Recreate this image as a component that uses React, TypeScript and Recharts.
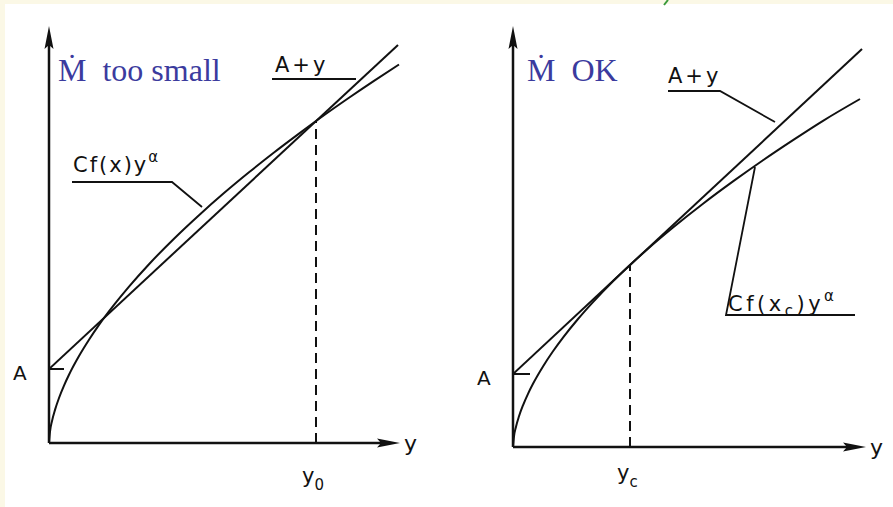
import React from 'react';
import { LineChart, Line, XAxis, YAxis, ReferenceLine } from 'recharts';

// ── Data (both panels share a y-range of 0..430, x-range of 0..360) ─────────

// Left panel: mass flux too small, curve crosses A + y twice
const leftCurveX = [0, 1, 3, 6, 10, 15, 20, 30, 40, 50, 65, 80, 100, 125, 150, 175, 200, 225, 250, 275, 300, 325, 350];
const leftCurveY = [0, 11.3, 21.9, 33.1, 45, 57.4, 68.2, 86.9, 103.2, 118.1, 138.1, 156.4, 178.8, 204.3, 227.8, 249.9, 270.7, 290.5, 309.4, 327.7, 345.2, 362.1, 378.5];
const leftLineX = [0, 349];
const leftLineY = [74, 398];
const leftA = 74;
const leftY0 = 267;
const leftCrossY = 322;

// Right panel: critical case, curve tangent to A + y at y_c
const rightCurveX = [0, 1, 3, 6, 10, 15, 20, 30, 40, 50, 65, 80, 100, 117, 135, 160, 190, 220, 250, 280, 310, 347];
const rightCurveY = [0, 10.5, 20.3, 30.7, 41.7, 53.2, 63.2, 80.5, 95.7, 109.4, 128, 144.9, 165.7, 182, 198.3, 219.5, 243.3, 265.6, 286.8, 306.9, 326.2, 348];
const rightLineX = [0, 349];
const rightLineY = [73, 398];
const rightA = 73;
const rightYc = 117;
const rightTangentY = 182;

const X_MAX = 360;
const Y_MAX = 430;

const toPoints = (xs: number[], ys: number[]) => xs.map((x, i) => ({ x, y: ys[i] }));

const INK = '#111';
const BLUE = '#3b3b9e';
const TECH_FONT = '"DejaVu Sans", sans-serif';
const SERIF = '"Liberation Serif", "DejaVu Serif", serif';

// ── Arrow-headed axis drawn through ReferenceLine's shape hook ──────────────

function ArrowAxis(props: any) {
  const { x1, y1, x2, y2 } = props;
  const dx = x2 - x1;
  const dy = y2 - y1;
  const len = Math.hypot(dx, dy) || 1;
  const ux = dx / len;
  const uy = dy / len;
  const head = 23;
  const half = 4.5;
  const bx = x2 - ux * head;
  const by = y2 - uy * head;
  const pts = [
    `${x2},${y2}`,
    `${bx - uy * half},${by + ux * half}`,
    `${bx + ux * 4},${by + uy * 4}`,
    `${bx + uy * half},${by - ux * half}`,
  ].join(' ');
  return (
    <g>
      <line x1={x1} y1={y1} x2={bx + ux * 4} y2={by + uy * 4} stroke={INK} strokeWidth={2.5} />
      <polygon points={pts} fill={INK} />
    </g>
  );
}

// ── One panel ───────────────────────────────────────────────────────────────

interface PanelProps {
  width: number;
  height: number;
  margin: { top: number; right: number; bottom: number; left: number };
  curve: { x: number; y: number }[];
  line: { x: number; y: number }[];
  a: number;
  tickLen: number;
  guideX: number;
  guideY: number;
  xTip: number;
  yTip: number;
}

function Panel({ width, height, margin, curve, line, a, tickLen, guideX, guideY, xTip, yTip }: PanelProps) {
  return (
    <LineChart width={width} height={height} margin={margin}>
      <XAxis type="number" dataKey="x" domain={[0, X_MAX]} hide allowDataOverflow />
      <YAxis type="number" dataKey="y" domain={[0, Y_MAX]} hide allowDataOverflow />

      <ReferenceLine segment={[{ x: 0, y: 0 }, { x: 0, y: yTip }]} shape={ArrowAxis} ifOverflow="visible" />
      <ReferenceLine segment={[{ x: 0, y: 0 }, { x: xTip, y: 0 }]} shape={ArrowAxis} ifOverflow="visible" />

      <ReferenceLine
        segment={[{ x: guideX, y: 0 }, { x: guideX, y: guideY }]}
        stroke={INK}
        strokeWidth={2}
        strokeDasharray="10 6"
      />
      <ReferenceLine segment={[{ x: 0, y: a }, { x: tickLen, y: a }]} stroke={INK} strokeWidth={2} />

      <Line data={line} dataKey="y" type="linear" stroke={INK} strokeWidth={2} dot={false} isAnimationActive={false} />
      <Line data={curve} dataKey="y" type="monotone" stroke={INK} strokeWidth={2} dot={false} isAnimationActive={false} />
    </LineChart>
  );
}

// ── Page ────────────────────────────────────────────────────────────────────

export default function App() {
  const techText = { fontFamily: TECH_FONT, fill: INK } as const;
  return (
    <div style={{ position: 'absolute', left: 0, top: 0, width: 893, height: 507, background: '#fbf8e6', overflow: 'hidden' }}>
      <div style={{ position: 'absolute', left: 5, top: 4, right: 0, bottom: 0, background: '#fff' }} />

      <div style={{ position: 'absolute', left: 0, top: 0 }}>
        <Panel
          width={446}
          height={507}
          margin={{ top: 443 - Y_MAX, left: 49, right: 446 - 49 - X_MAX, bottom: 507 - 443 }}
          curve={toPoints(leftCurveX, leftCurveY)}
          line={toPoints(leftLineX, leftLineY)}
          a={leftA}
          tickLen={15}
          guideX={leftY0}
          guideY={leftCrossY}
          xTip={351}
          yTip={417}
        />
      </div>

      <div style={{ position: 'absolute', left: 446, top: 0 }}>
        <Panel
          width={447}
          height={507}
          margin={{ top: 447 - Y_MAX, left: 67, right: 447 - 67 - X_MAX, bottom: 507 - 447 }}
          curve={toPoints(rightCurveX, rightCurveY)}
          line={toPoints(rightLineX, rightLineY)}
          a={rightA}
          tickLen={17}
          guideX={rightYc}
          guideY={rightTangentY}
          xTip={353}
          yTip={421}
        />
      </div>

      {/* labels and leader lines */}
      <svg width={893} height={507} style={{ position: 'absolute', left: 0, top: 0, pointerEvents: 'none' }}>
        <line x1={664} y1={5} x2={668} y2={0} stroke="#3a9a3a" strokeWidth={2} />

        <text x={58} y={81} fontFamily={SERIF} fontSize={32} fill={BLUE} xmlSpace="preserve">{'Ṁ  too small'}</text>
        <text x={527} y={81} fontFamily={SERIF} fontSize={32} fill={BLUE} xmlSpace="preserve">{'Ṁ  OK'}</text>

        {/* left panel */}
        <text x={275} y={72} fontSize={21} letterSpacing={3} {...techText}>A+y</text>
        <line x1={272} y1={79} x2={356} y2={79} stroke={INK} strokeWidth={1.8} />

        <text x={73} y={172} fontSize={21} letterSpacing={2} {...techText}>
          Cf(x)y<tspan fontSize={15} dy={-10}>α</tspan>
        </text>
        <polyline points="72,182 172,182 202,207" fill="none" stroke={INK} strokeWidth={1.8} />

        <text x={13} y={380} fontSize={20} {...techText}>A</text>
        <text x={404} y={451} fontSize={22} {...techText}>y</text>
        <text x={302} y={483} fontSize={21} {...techText}>
          y<tspan fontSize={15} dy={7}>0</tspan>
        </text>

        {/* right panel */}
        <text x={668} y={83} fontSize={21} letterSpacing={3} {...techText}>A+y</text>
        <polyline points="668,91 720,91 775,122" fill="none" stroke={INK} strokeWidth={1.8} />

        <text x={728} y={311} fontSize={21} letterSpacing={3.5} {...techText}>
          Cf(x<tspan fontSize={15} dy={5}>c</tspan>
          <tspan dy={-5}>)y</tspan>
          <tspan fontSize={15} dy={-10}>α</tspan>
        </text>
        <polyline points="755,167 726,315 855,315" fill="none" stroke={INK} strokeWidth={1.8} />

        <text x={477} y={385} fontSize={20} {...techText}>A</text>
        <text x={870} y={455} fontSize={22} {...techText}>y</text>
        <text x={617} y={480} fontSize={21} {...techText}>
          y<tspan fontSize={15} dy={7}>c</tspan>
        </text>
      </svg>
    </div>
  );
}
